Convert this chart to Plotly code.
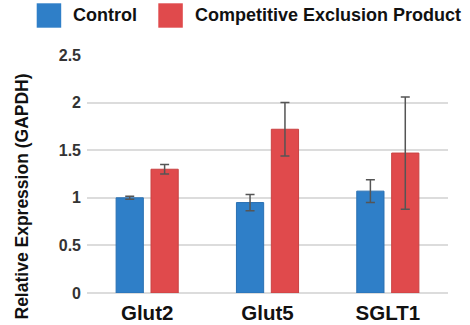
import plotly.graph_objects as go

categories = ["Glut2", "Glut5", "SGLT1"]
control = [1.00, 0.95, 1.07]
control_err = [0.015, 0.085, 0.12]
product = [1.30, 1.72, 1.47]
product_err = [0.05, 0.28, 0.59]
series_names = ["Control", "Competitive Exclusion Product"]
y_ticks = [0, 0.5, 1, 1.5, 2, 2.5]
y_tick_labels = ["0", "0.5", "1", "1.5", "2", "2.5"]

BLUE = "#2f7fc8"
RED = "#e04a4c"
W, H = 470, 325
L, R, T, B = 87, 22, 55, 32

fig = go.Figure()
for name, vals, errs, col, edge in [
    (series_names[0], control, control_err, BLUE, "#2a70b2"),
    (series_names[1], product, product_err, RED, "#c94343"),
]:
    fig.add_trace(go.Bar(
        x=categories, y=vals, name=name, showlegend=False,
        marker=dict(color=col, line=dict(color=edge, width=1)),
        error_y=dict(type="data", array=errs, visible=True,
                     color="#555555", thickness=1.5, width=4.5),
    ))

pw, ph = W - L - R, H - T - B
def px(x):
    return (x - L) / pw
def py(y):
    return (H - B - y) / ph

shapes = []
annotations = []
for (x0, name), col in zip([(36.7, series_names[0]), (158.3, series_names[1])], [BLUE, RED]):
    shapes.append(dict(type="rect", xref="paper", yref="paper",
                       x0=px(x0), x1=px(x0 + 24.5), y0=py(27.7), y1=py(3.3),
                       fillcolor=col, line=dict(width=0)))
    annotations.append(dict(text="<b>%s</b>" % name, xref="paper", yref="paper",
                            x=px(x0 + 34.5), y=py(15.5), xanchor="left", yanchor="middle",
                            showarrow=False, font=dict(size=18, color="#111111")))

annotations.append(dict(text="<b>Relative Expression (GAPDH)</b>", xref="paper", yref="paper",
                        x=px(21.5), y=py(197), xanchor="center", yanchor="middle",
                        textangle=-90, showarrow=False,
                        font=dict(size=17.5, color="#111111")))

fig.update_layout(
    width=W, height=H,
    margin=dict(l=L, r=R, t=T, b=B, pad=0),
    paper_bgcolor="white", plot_bgcolor="white",
    font=dict(family="Liberation Sans, Arial, sans-serif"),
    barmode="group", bargap=0.42, bargroupgap=0.22,
    shapes=shapes, annotations=annotations,
    xaxis=dict(showgrid=False, showline=False, ticks="", automargin=False,
               tickfont=dict(size=20.5, color="#111111"),
               tickvals=categories, ticktext=["<b>%s</b>" % c for c in categories],
               ticklabelstandoff=5),
    yaxis=dict(range=[0, 2.5], tickvals=y_ticks, automargin=False,
               ticktext=["<b>%s</b>" % t for t in y_tick_labels],
               tickfont=dict(size=16, color="#333333"),
               showgrid=True, gridcolor="#dcdcdc", gridwidth=1.5,
               zeroline=True, zerolinecolor="#dcdcdc", zerolinewidth=1.5,
               showline=False, ticks="", ticklabelstandoff=5),
)

fig.write_html("out.html", config={"displayModeBar": False},
               post_script="document.body.style.margin='0';document.body.style.padding='0';document.body.style.overflow='hidden';")
